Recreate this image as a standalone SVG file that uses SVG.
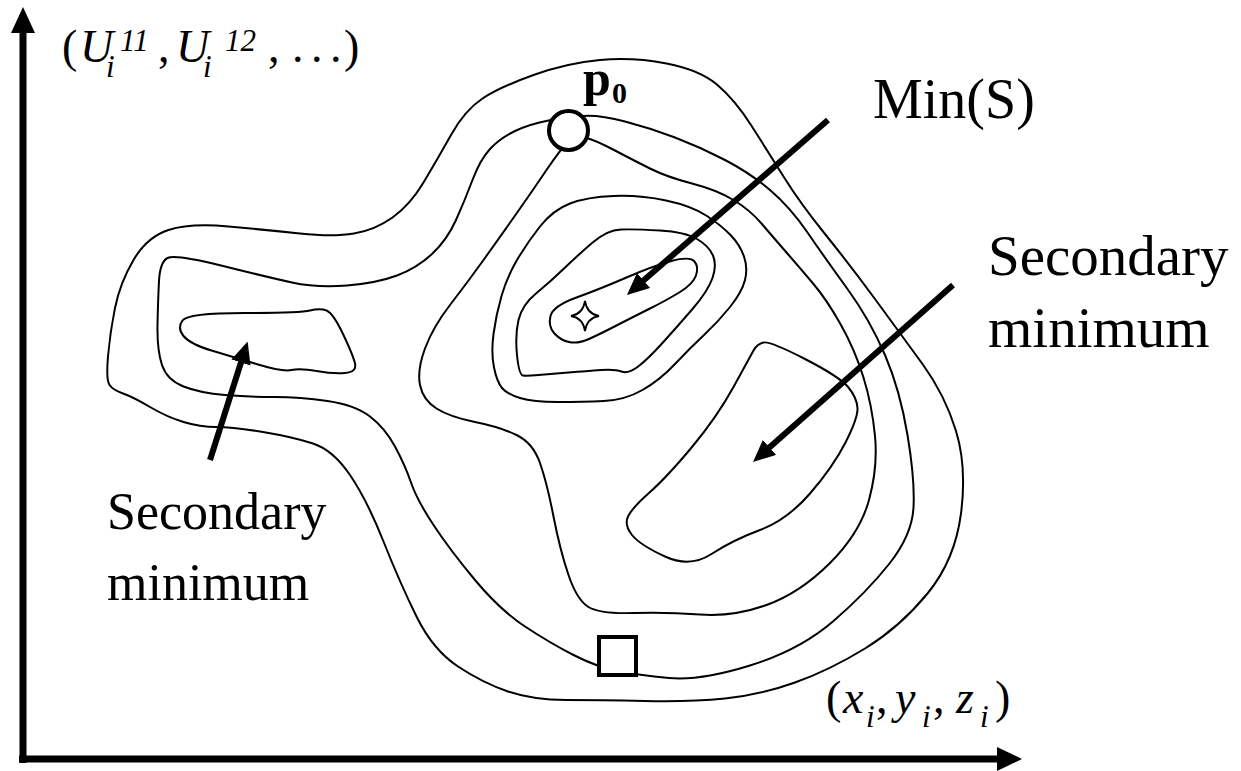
<svg xmlns="http://www.w3.org/2000/svg" width="1241" height="771" viewBox="0 0 1241 771">
<style>
.contour{fill:none;stroke:#000;stroke-width:2;stroke-linejoin:round}
.arrow{stroke:#000;stroke-width:6;fill:none}
.axis{stroke:#000;stroke-width:7;fill:none}
.t{font-family:"Liberation Serif","Times New Roman",serif;fill:#000}
.it{font-style:italic}
.sm{font-size:31px}
</style>
<defs>
<marker id="ah" markerUnits="userSpaceOnUse" markerWidth="22" markerHeight="20" refX="10" refY="10" orient="auto" viewBox="0 0 22 20">
<path d="M0,0 L22,10 L0,20 Z" fill="#000"/>
</marker>
</defs>
<rect width="1241" height="771" fill="#fff"/>

<g id="axes">
<line class="axis" x1="23" y1="30" x2="23" y2="763"/>
<polygon points="23,7 11,33 35,33" fill="#000"/>
<line class="axis" x1="19" y1="759" x2="1000" y2="759"/>
<polygon points="1022,759 997,747 997,771" fill="#000"/>
</g>

<g id="contours">
<path id="contourA" class="contour" d="M133.5,260 Q147,237 168.5,230 Q190,223 228.5,226.5 Q267,230 300,233.5 Q333,237 354,233.5 Q375,230 392.5,217.5 Q410,205 423.5,182.5 Q437,160 451,135 Q465,110 482.5,98.5 Q500,87 533.5,75 Q567,63 600,60 Q633,57 666.5,63.5 Q700,70 717.5,85 Q735,100 751,125 Q767,150 783.5,176.5 Q800,203 825,234 Q850,265 875,299 Q900,333 922.5,364 Q945,395 956,431 Q967,467 961,513.5 Q955,560 927.5,593.5 Q900,627 865,648.5 Q830,670 795,682.5 Q760,695 725,698.5 Q690,702 645,701 Q600,700 566.5,700 Q533,700 508,691.5 Q483,683 458,666.5 Q433,650 416.5,616.5 Q400,583 383.5,541.5 Q367,500 350,475 Q333,450 313,443.5 Q293,437 263,432 Q233,427 216.5,427 Q200,427 183.5,422 Q167,417 150,407 Q133,397 123,393.5 Q113,390 109.5,385 Q106,380 108,356.5 Q110,333 115,308 Q120,283 133.5,260 Z"/>
<path id="contourB" class="contour" d="M159,281 Q160,262 167.5,258 Q175,254 221,265.5 Q267,277 292,282.5 Q317,288 347,285.5 Q377,283 397,275.5 Q417,268 432,254 Q447,240 456,220 Q465,200 472.5,180 Q480,160 490,149 Q500,138 515,131 Q530,124 548.5,120.5 Q567,117 583.5,116 Q600,115 625,121.5 Q650,128 675,137.5 Q700,147 725,160 Q750,173 770,190 Q790,207 807.5,232.5 Q825,258 847.5,289 Q870,320 885,355 Q900,390 907.5,435 Q915,480 913.5,507.5 Q912,535 889.5,563.5 Q867,592 833.5,621 Q800,650 750,665.5 Q700,681 669,678 Q638,675 617.5,671 Q597,667 573.5,655 Q550,643 525,626.5 Q500,610 475,580 Q450,550 433.5,525 Q417,500 411,482.5 Q405,465 395,446.5 Q385,428 370,416.5 Q355,405 327.5,401 Q300,397 275,397 Q250,397 225,395 Q200,393 183.5,386.5 Q167,380 162,365 Q157,350 157.5,325 Q158,300 159,281 Z"/>
<path id="contourC" class="contour" d="M567.5,142.5 Q575,135 585,137.5 Q595,140 614,150 Q633,160 650,168.5 Q667,177 692,183.5 Q717,190 733.5,200 Q750,210 761.5,223.5 Q773,237 786.5,252.5 Q800,268 813.5,284 Q827,300 841,325 Q855,350 863.5,377.5 Q872,405 875,436 Q878,467 869,500 Q860,533 830,563 Q800,593 766.5,605 Q733,617 700,614.5 Q667,612 633.5,613 Q600,614 588.5,607 Q577,600 568.5,575 Q560,550 553.5,516.5 Q547,483 540,463 Q533,443 516.5,435 Q500,427 475,422 Q450,417 436.5,408.5 Q423,400 420,385 Q417,370 425,348.5 Q433,327 450,305 Q467,283 483.5,260 Q500,237 516.5,213.5 Q533,190 546.5,170 Q560,150 567.5,142.5 Z"/>
<path id="contourD" class="contour" d="M502,388 Q497,382 494,367.5 Q491,353 493.5,334 Q496,315 501.5,296 Q507,277 517,260 Q527,243 540,226.5 Q553,210 570,203.5 Q587,197 613.5,196 Q640,195 666,200.5 Q692,206 707,216 Q722,226 731,235.5 Q740,245 744,256.5 Q748,268 745,280 Q742,292 730,307 Q718,322 704,335 Q690,348 675,364 Q660,380 642.5,390 Q625,400 604,401 Q583,402 558,402 Q533,402 520,398 Q507,394 502,388 Z"/>
<path id="contourE" class="contour" d="M523,375.5 Q519,375 517,355 Q515,335 518.5,320 Q522,305 536,293.5 Q550,282 563.5,269 Q577,256 592,243 Q607,230 621,229.5 Q635,229 660,230.5 Q685,232 697,239 Q709,246 713,255.5 Q717,265 712.5,278 Q708,291 692.5,309 Q677,327 662,343.5 Q647,360 637.5,367 Q628,374 621.5,371.5 Q615,369 601,370 Q587,371 568.5,372.5 Q550,374 538.5,375 Q527,376 523,375.5 Z"/>
<path id="contourF" class="contour" d="M554,333 Q548,326 550.5,316 Q553,306 576.5,297.5 Q600,289 626.5,277.5 Q653,266 671.5,261 Q690,256 694.5,261.5 Q699,267 696,275.5 Q693,284 680,292 Q667,300 650,308.5 Q633,317 616.5,325.5 Q600,334 589,339 Q578,344 569,342 Q560,340 554,333 Z"/>
<path id="contourG" class="contour" d="M733.5,387 Q750,357 753.5,350.5 Q757,344 763.5,342.5 Q770,341 805,359 Q840,377 848.5,387.5 Q857,398 857.5,408 Q858,418 845.5,442.5 Q833,467 810,493.5 Q787,520 760,530 Q733,540 711.5,554 Q690,568 665,556.5 Q640,545 632,535 Q624,525 628,516.5 Q632,508 649.5,492.5 Q667,477 692,447 Q717,417 733.5,387 Z"/>
<path id="contourH" class="contour" d="M183.5,336 Q177,328 182.5,320.5 Q188,313 244,313 Q300,313 310,310.5 Q320,308 326.5,310.5 Q333,313 343,334 Q353,355 355,363.5 Q357,372 345,373 Q333,374 316.5,371 Q300,368 291.5,370 Q283,372 258,364.5 Q233,357 211.5,350.5 Q190,344 183.5,336 Z"/>
</g>

<g id="p0-node">
<circle cx="568.5" cy="130.5" r="19.5" fill="#fff" stroke="#000" stroke-width="4"/>
<text class="t" font-weight="bold"><tspan x="583" y="95" font-size="50">p</tspan><tspan x="612" y="103" font-size="30">0</tspan></text>
</g>

<g id="square-node">
<rect x="599" y="637" width="37" height="38" fill="#fff" stroke="#000" stroke-width="4"/>
</g>

<g id="min-star">
<path d="M585,301 Q587,314 599,316 Q587,318 585,331 Q583,318 571,316 Q583,314 585,301 Z" fill="#fff" stroke="#000" stroke-width="1.8"/>
</g>

<g id="connectors">
<line class="arrow" x1="828" y1="120" x2="636" y2="287" marker-end="url(#ah)"/>
<line class="arrow" x1="953" y1="285" x2="762" y2="454" marker-end="url(#ah)"/>
<line class="arrow" x1="210" y1="460" x2="244" y2="353" marker-end="url(#ah)"/>
</g>

<g id="label-min">
<text class="t" x="873" y="118" font-size="56">Min(S)</text>
</g>
<g id="label-sec-right">
<text class="t" x="988" y="275" font-size="57">Secondary</text>
<text class="t" x="988" y="347" font-size="57">minimum</text>
</g>
<g id="label-sec-left">
<text class="t" x="107" y="529" font-size="52">Secondary</text>
<text class="t" x="107" y="600" font-size="52">minimum</text>
</g>

<g id="label-yaxis">
<text class="t" font-size="46"><tspan x="62" y="62">(</tspan><tspan class="it" x="80" y="62">U</tspan><tspan class="it sm" x="106" y="77">i</tspan><tspan class="it sm" x="120" y="51">11</tspan><tspan x="158" y="62">,</tspan><tspan class="it" x="176" y="62">U</tspan><tspan class="it sm" x="203" y="77">i</tspan><tspan class="it sm" x="225" y="51">12</tspan><tspan x="268" y="62">,</tspan><tspan x="292 311 330" y="62">...</tspan><tspan x="344" y="62">)</tspan></text>
</g>

<g id="label-xaxis">
<text class="t" font-size="46"><tspan x="826" y="713">(</tspan><tspan class="it" x="843" y="713">x</tspan><tspan class="it sm" x="866" y="727">i</tspan><tspan x="876" y="713">,</tspan><tspan class="it" x="895" y="713">y</tspan><tspan class="it sm" x="922" y="727">i</tspan><tspan x="933" y="713">,</tspan><tspan class="it" x="956" y="713">z</tspan><tspan class="it sm" x="980" y="727">i</tspan><tspan x="995" y="713">)</tspan></text>
</g>
</svg>
